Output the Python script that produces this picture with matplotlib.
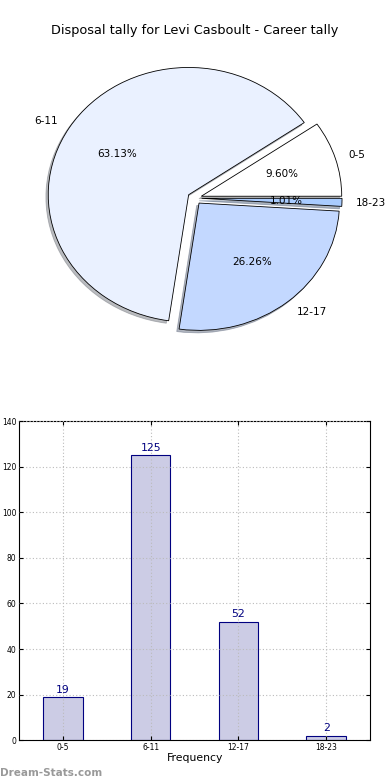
import numpy as np
import matplotlib
matplotlib.use('Agg')
import matplotlib.pyplot as plt

player = 'Levi Casboult'
bins = ['0-5', '6-11', '12-17', '18-23']
counts = [19, 125, 52, 2]
pie_colors = ['#ffffff', '#eaf1ff', '#c3d8ff', '#a9ccff']

fig = plt.figure(figsize=(3.9, 7.8), dpi=100)

# pie on top
ax1 = fig.add_axes([0.049, 0.542, 0.9, 0.408])
ax1.pie(counts, labels=bins, colors=pie_colors, autopct='%.2f%%',
        explode=[0.05]*len(counts),
        shadow={'ox': -0.012, 'oy': -0.014, 'shade': 0.5},
        wedgeprops={'edgecolor': 'black', 'linewidth': 0.6},
        textprops={'fontsize': 7.5})
ax1.set_aspect('auto')
ax1.set_xlim(-1.25, 1.25)
ax1.set_ylim(-1.25, 1.25)
ax1.set_title('Disposal tally for %s - Career tally' % player, fontsize=9.3, pad=3.5)

# histogram bars below
ax2 = fig.add_axes([0.049, 0.051, 0.9, 0.409])
x = np.arange(len(bins))
bars = ax2.bar(x, counts, width=0.45, color='#ccccE5', edgecolor='#000080', linewidth=0.8)
for b, c in zip(bars, counts):
    ax2.text(b.get_x() + b.get_width()/2, c + 1, str(c), ha='center', va='bottom',
             fontsize=7.8, color='#000080')
ax2.set_xlim(-0.5, 3.5)
ax2.set_ylim(0, 140)
ax2.set_yticks(range(0, 141, 20))
ax2.set_xticks(x)
ax2.set_xticklabels(bins)
ax2.tick_params(labelsize=5.5, direction='in', top=True, right=True, length=3, pad=2)
ax2.set_axisbelow(False)
ax2.grid(True, linestyle=(0, (1, 2)), color='#bbbbbb', linewidth=0.8)
ax2.set_xlabel('Frequency', fontsize=7.8, labelpad=1)

fig.text(0.0, 0.005, 'Dream-Stats.com', fontsize=7.5, fontweight='bold', color='#999999')

plt.savefig('out.png', dpi=100)
